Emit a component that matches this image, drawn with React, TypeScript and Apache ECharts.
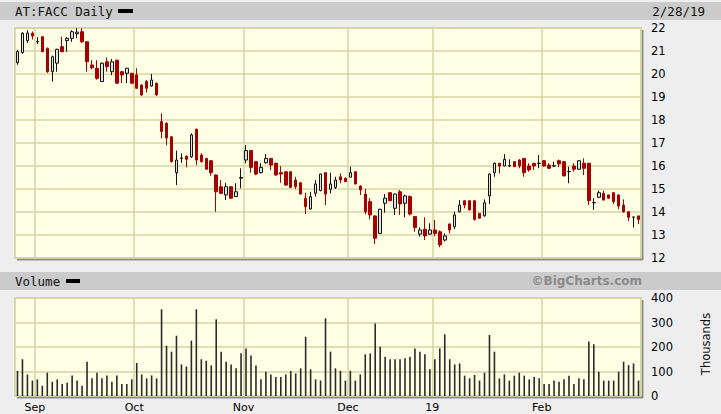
import React, { useEffect, useRef } from 'react';
import * as echarts from 'echarts';

// Daily OHLC (EUR), AT:FACC, late Aug 2018 – 28 Feb 2019
const opens = [
  20.49, 20.93, 21.45, 21.77, 21.4, 21.62, 21.12, 20.1, 20.47, 21.19,
  21.45, 21.55, 21.75, 21.84, 21.4, 20.39, 20.25, 19.67, 20.53, 20.1,
  20.6, 20.1, 20.03, 20.03, 19.96, 19.52, 19.67, 19.48, 19.6, 17.93,
  17.86, 17.27, 15.71, 16.33, 16.43, 16.4, 17.6, 16.48, 16.33, 16.23,
  15.61, 15.1, 14.74, 15.1, 14.67, 15.47, 16.26, 16.67, 16.19, 15.71,
  16.14, 16.33, 16.12, 15.71, 15.75, 15.75, 15.39, 15.27, 14.6, 14.13,
  14.81, 14.93, 15.71, 14.99, 15.07, 15.53, 15.47, 15.51, 15.75, 15.13,
  14.78, 14.45, 13.83, 13.07, 14.38, 14.84, 14.16, 14.88, 14.38, 14.67,
  13.8, 13.04, 13.25, 13.04, 13.22, 13.14, 12.78, 13.48, 13.36, 14.01,
  14.49, 14.49, 14.49, 13.94, 13.83, 14.7, 15.71, 16.12, 16.0, 16.0,
  16.19, 16.26, 16.33, 16.0, 16.12, 16.11, 16.23, 16.04, 16.0, 16.23,
  16.19, 15.75, 16.0, 15.86, 16.12, 16.12, 14.4, 14.64, 14.81, 14.74,
  14.84, 14.74, 14.3, 14.01, 13.77, 13.83,
];
const closes = [
  20.97, 21.77, 21.78, 21.65, 21.42, 20.97, 20.1, 20.75, 21.07, 20.97,
  21.55, 21.84, 21.82, 21.4, 20.53, 20.27, 19.81, 20.47, 20.32, 20.53,
  19.6, 19.96, 20.25, 19.6, 19.38, 19.09, 19.38, 19.74, 19.09, 17.5,
  17.22, 16.19, 16.26, 16.35, 16.29, 17.35, 16.26, 16.19, 15.86, 15.71,
  14.88, 14.81, 15.1, 14.6, 14.88, 15.5, 16.67, 15.94, 15.65, 15.94,
  16.33, 16.04, 15.61, 15.65, 15.17, 15.07, 15.1, 14.78, 14.23, 14.67,
  15.22, 15.65, 14.78, 15.22, 15.39, 15.39, 15.32, 15.71, 15.22, 14.96,
  14.01, 13.87, 12.86, 14.12, 14.6, 14.49, 14.78, 14.35, 14.7, 13.91,
  13.33, 13.22, 12.96, 13.22, 13.07, 12.57, 12.96, 13.22, 13.87, 14.3,
  14.3, 14.09, 13.68, 13.73, 14.4, 15.65, 16.12, 16.0, 16.29, 16.02,
  15.97, 16.0, 15.71, 15.83, 16.0, 16.12, 16.0, 15.9, 16.01, 16.09,
  15.57, 15.76, 15.86, 16.23, 15.9, 14.49, 14.41, 14.84, 14.52, 14.6,
  14.45, 14.26, 14.01, 13.77, 13.78, 13.68,
];
const lows = [
  20.4, 20.88, 21.35, 21.5, 21.3, 20.95, 20.05, 19.67, 20.1, 20.95,
  20.97, 21.4, 21.55, 21.35, 20.1, 20.2, 19.75, 19.65, 20.1, 19.95,
  19.58, 19.6, 19.6, 19.58, 19.35, 19.05, 19.2, 19.45, 19.05, 17.2,
  16.9, 16.15, 15.17, 16.14, 15.94, 16.35, 16.04, 16.15, 15.83, 15.57,
  14.01, 14.78, 14.52, 14.58, 14.65, 15.03, 16.12, 15.71, 15.6, 15.68,
  16.1, 15.83, 15.58, 15.27, 15.15, 15.05, 15.0, 14.76, 13.91, 14.11,
  14.67, 14.9, 14.3, 14.81, 15.0, 15.25, 15.3, 15.5, 15.2, 14.74,
  13.9, 13.68, 12.61, 13.05, 13.97, 14.47, 13.87, 13.87, 13.77, 13.85,
  13.14, 12.93, 12.78, 13.0, 12.95, 12.47, 12.72, 13.07, 13.25, 13.98,
  14.16, 14.07, 13.62, 13.71, 13.8, 14.35, 15.53, 15.68, 15.98, 15.95,
  15.95, 15.9, 15.53, 15.75, 15.83, 15.9, 15.98, 15.88, 15.95, 15.95,
  15.55, 15.25, 15.75, 15.84, 15.6, 14.3, 14.09, 14.6, 14.5, 14.58,
  14.35, 14.12, 13.97, 13.6, 13.33, 13.48,
];
const highs = [
  21.05, 21.82, 21.9, 21.85, 21.6, 21.65, 21.15, 20.8, 21.1, 21.62,
  21.6, 21.9, 21.99, 21.99, 21.42, 20.6, 20.6, 20.5, 20.72, 20.65,
  20.62, 20.12, 20.27, 20.05, 20.25, 19.55, 19.74, 20.0, 19.62, 18.29,
  17.9, 17.3, 16.67, 16.55, 16.45, 17.42, 17.62, 16.55, 16.35, 16.25,
  15.63, 15.39, 15.27, 15.12, 15.25, 15.9, 16.91, 16.7, 16.2, 16.12,
  16.52, 16.35, 16.14, 16.0, 15.77, 15.77, 15.53, 15.29, 14.84, 14.88,
  15.39, 15.67, 15.73, 15.71, 15.53, 15.68, 15.5, 15.97, 15.77, 15.15,
  15.0, 14.6, 13.85, 14.14, 14.78, 14.86, 14.8, 14.96, 14.75, 14.72,
  13.82, 13.33, 13.77, 13.51, 13.65, 13.2, 13.07, 13.5, 14.01, 14.52,
  14.5, 14.5, 14.5, 13.95, 14.55, 15.68, 16.15, 16.13, 16.52, 16.29,
  16.2, 16.3, 16.35, 16.12, 16.13, 16.48, 16.25, 16.12, 16.19, 16.28,
  16.2, 15.97, 16.12, 16.25, 16.33, 16.14, 14.6, 14.93, 14.93, 14.76,
  14.86, 14.76, 14.55, 14.03, 13.8, 13.85,
];
// Volume, thousands of shares
const volumes = [
  102, 150, 88, 63, 68, 42, 95, 58, 68, 49,
  54, 84, 63, 42, 140, 72, 95, 72, 84, 58,
  84, 49, 49, 68, 135, 88, 72, 84, 72, 354,
  205, 181, 246, 129, 120, 226, 354, 150, 144, 125,
  313, 181, 140, 129, 113, 174, 194, 165, 124, 68,
  99, 88, 78, 78, 88, 102, 92, 113, 242, 109,
  68, 63, 317, 181, 113, 103, 63, 103, 63, 88,
  170, 174, 296, 201, 160, 150, 150, 150, 154, 160,
  194, 181, 170, 109, 150, 194, 252, 150, 129, 133,
  83, 72, 86, 63, 95, 249, 181, 72, 88, 63,
  83, 95, 83, 68, 78, 72, 49, 49, 63, 58,
  68, 83, 49, 72, 68, 222, 211, 99, 63, 63,
  63, 99, 140, 126, 133, 63,
];
// first trading day of each month (index into the series) and its label
const monthStarts = [4, 24, 46, 67, 84, 106];
const monthLabels = ['Sep', 'Oct', 'Nov', 'Dec', '19', 'Feb'];

const GRID_LINE = '#d5d5a3';
const PLOT_BG = '#ffffe6';
const DOWN = '#a80000';

export default function App() {
  const ref = useRef<HTMLDivElement>(null);
  useEffect(() => {
    if (!ref.current) return;
    const chart = echarts.init(ref.current, undefined, { renderer: 'svg' });
    const cats = opens.map((_, i) => String(i));
    const candles = opens.map((o, i) => [o, closes[i], lows[i], highs[i]]);
    const isMonth = (idx: number) => monthStarts.indexOf(idx) >= 0;
    const monthLabel = (idx: number) => {
      const k = monthStarts.indexOf(idx);
      return k >= 0 ? monthLabels[k] : '';
    };
    const sans = '"DejaVu Sans", Verdana, sans-serif';
    const mono = '"DejaVu Sans Mono", monospace';
    const gridCommon = {
      left: 15,
      width: 626,
      show: true,
      backgroundColor: PLOT_BG,
      borderColor: '#cfcf9c',
      borderWidth: 1.5,
    };
    const xCommon = {
      type: 'category',
      data: cats,
      boundaryGap: true,
      axisLine: { show: false },
      axisTick: { show: false },
      splitLine: {
        show: true,
        interval: (idx: number) => isMonth(idx),
        lineStyle: { color: GRID_LINE, width: 1.5 },
      },
    };
    const yCommon = {
      position: 'right',
      axisLine: { show: false },
      axisTick: { show: false },
      splitLine: { show: true, lineStyle: { color: GRID_LINE, width: 1.5 } },
    };
    chart.setOption({
      animation: false,
      backgroundColor: '#eeeeee',
      grid: [
        { ...gridCommon, top: 28, height: 230 },
        { ...gridCommon, top: 298, height: 98 },
      ],
      xAxis: [
        { ...xCommon, gridIndex: 0, axisLabel: { show: false } },
        {
          ...xCommon,
          gridIndex: 1,
          axisLabel: {
            show: true,
            interval: (idx: number) => isMonth(idx),
            formatter: (_v: string, idx: number) => monthLabel(idx),
            color: '#000',
            fontFamily: sans,
            fontSize: 11,
            margin: 6,
            padding: [0, 5, 0, 0],
          },
        },
      ],
      yAxis: [
        {
          ...yCommon,
          type: 'value',
          gridIndex: 0,
          min: 12,
          max: 22,
          interval: 1,
          axisLabel: { color: '#000', fontFamily: sans, fontSize: 11.5, margin: 10 },
        },
        {
          ...yCommon,
          type: 'value',
          gridIndex: 1,
          min: 0,
          max: 400,
          interval: 100,
          axisLabel: { color: '#000', fontFamily: sans, fontSize: 11.5, margin: 10 },
        },
      ],
      series: [
        {
          type: 'candlestick',
          xAxisIndex: 0,
          yAxisIndex: 0,
          data: candles,
          barWidth: 3,
          itemStyle: {
            color: '#e2e2e2',
            color0: DOWN,
            borderColor: '#111',
            borderColor0: DOWN,
            borderWidth: 1,
          },
        },
        {
          type: 'bar',
          xAxisIndex: 1,
          yAxisIndex: 1,
          data: volumes,
          barWidth: 1.6,
          itemStyle: { color: '#2b2b2b' },
        },
      ],
      graphic: [
        { type: 'rect', silent: true, z: -1, shape: { x: 0, y: 2, width: 721, height: 18 }, style: { fill: '#cbcbcb' } },
        { type: 'rect', silent: true, z: -1, shape: { x: 0, y: 272, width: 721, height: 18 }, style: { fill: '#cbcbcb' } },
        { type: 'rect', silent: true, shape: { x: 17, y: 258.5, width: 626, height: 2 }, style: { fill: '#8c8c8c' } },
        { type: 'rect', silent: true, shape: { x: 641.5, y: 30, width: 2, height: 230 }, style: { fill: '#8c8c8c' } },
        { type: 'rect', silent: true, shape: { x: 17, y: 396.5, width: 626, height: 2 }, style: { fill: '#8c8c8c' } },
        { type: 'rect', silent: true, shape: { x: 641.5, y: 300, width: 2, height: 98 }, style: { fill: '#8c8c8c' } },
        {
          type: 'text', x: 15, y: 11,
          style: { text: 'AT:FACC Daily', fontFamily: mono, fontSize: 12.5, fill: '#111', verticalAlign: 'middle' },
        },
        { type: 'rect', shape: { x: 118, y: 9, width: 15, height: 4 }, style: { fill: '#000' } },
        {
          type: 'text', x: 705, y: 11,
          style: { text: '2/28/19', fontFamily: mono, fontSize: 12.5, fill: '#111', align: 'right', verticalAlign: 'middle' },
        },
        {
          type: 'text', x: 15, y: 281,
          style: { text: 'Volume', fontFamily: mono, fontSize: 12.5, fill: '#111', verticalAlign: 'middle' },
        },
        { type: 'rect', shape: { x: 66, y: 279, width: 14, height: 4 }, style: { fill: '#000' } },
        {
          type: 'text', x: 642, y: 281,
          style: { text: '©BigCharts.com', fontFamily: sans, fontWeight: 'bold', fontSize: 12, fill: '#8a8a8a', align: 'right', verticalAlign: 'middle' },
        },
        {
          type: 'text', x: 706, y: 344, rotation: Math.PI / 2,
          style: { text: 'Thousands', fontFamily: sans, fontSize: 11.5, fill: '#111', align: 'center', verticalAlign: 'middle' },
        },
      ],
    });
    return () => chart.dispose();
  }, []);
  return (
    <div
      ref={ref}
      style={{ position: 'fixed', left: 0, top: 0, width: 721, height: 414, background: '#eeeeee' }}
    />
  );
}
